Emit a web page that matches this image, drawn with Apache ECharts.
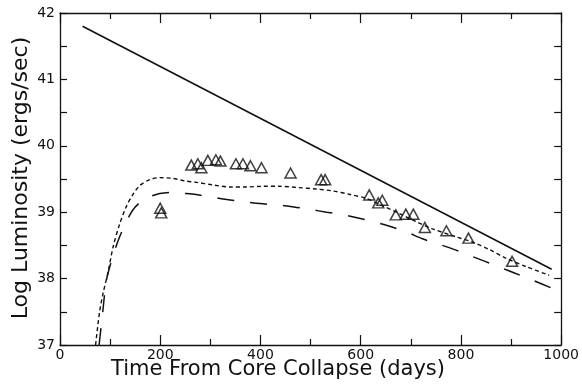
<!DOCTYPE html>
<html>
<head>
<meta charset="utf-8">
<script src="https://cdn.jsdelivr.net/npm/echarts@6/dist/echarts.min.js"></script>
<style>
  html, body { margin: 0; padding: 0; background: #fff; }
  #chart { width: 582px; height: 389px; }
</style>
</head>
<body>
<div id="chart"></div>
<script>
// Upper-limit luminosity: straight line in log space
const limitDays = [45, 981];
const limitLum = [41.80, 38.14];

// Model curve (short dashes)
const modelADays = [71, 79, 86, 96, 106, 119, 132, 145, 159, 179, 199, 225, 250, 272, 305, 340, 371, 405, 438, 478, 510, 544, 577, 610, 643, 677, 710, 743, 790, 823, 856, 889, 930, 976];
const modelALum = [37.0, 37.5, 37.78, 38.1, 38.48, 38.82, 39.08, 39.26, 39.4, 39.49, 39.52, 39.51, 39.47, 39.45, 39.41, 39.38, 39.38, 39.39, 39.39, 39.37, 39.35, 39.32, 39.27, 39.21, 39.1, 38.98, 38.86, 38.75, 38.63, 38.55, 38.44, 38.31, 38.18, 38.05];

// Model curve (long dashes)
const modelBDays = [78, 86, 92, 99, 109, 119, 132, 145, 160, 175, 199, 225, 252, 268, 300, 333, 366, 399, 433, 467, 500, 532, 565, 597, 630, 661, 692, 723, 755, 786, 817, 848, 878, 908, 945, 980];
const modelBLum = [37.0, 37.55, 37.95, 38.17, 38.42, 38.63, 38.85, 39.03, 39.15, 39.22, 39.28, 39.30, 39.28, 39.27, 39.23, 39.19, 39.16, 39.13, 39.11, 39.08, 39.04, 39.0, 38.96, 38.91, 38.85, 38.78, 38.70, 38.6, 38.52, 38.44, 38.35, 38.26, 38.17, 38.08, 37.97, 37.86];

// Observed points (triangles)
const obsDays = [200, 202, 262, 275, 282, 295, 311, 320, 351, 365, 380, 402, 460, 521, 529, 617, 635, 643, 670, 690, 705, 728, 771, 815, 902];
const obsLum = [39.06, 38.99, 39.71, 39.73, 39.67, 39.78, 39.79, 39.77, 39.73, 39.73, 39.70, 39.67, 39.59, 39.49, 39.49, 39.26, 39.14, 39.18, 38.96, 38.97, 38.97, 38.77, 38.72, 38.61, 38.26];

// Axis setup
const xMin = 0, xMax = 1000, xStep = 200;
const yMin = 37, yMax = 42, yStep = 1;

const zip = (a, b) => a.map((v, i) => [v, b[i]]);
const ink = '#111';
const font = '"DejaVu Sans", Arial, sans-serif';

const chart = echarts.init(document.getElementById('chart'), null, { renderer: 'canvas' });

const xAxisBase = {
  type: 'value', min: xMin, max: xMax, interval: xStep,
  axisLine: { show: true, onZero: false, lineStyle: { color: ink, width: 1.3 } },
  axisTick: { show: true, inside: true, length: 10, lineStyle: { color: ink, width: 1.2 } },
  minorTick: { show: true, splitNumber: 2, length: 6, lineStyle: { color: ink, width: 1.2 } },
  splitLine: { show: false }
};
const yAxisBase = {
  type: 'value', min: yMin, max: yMax, interval: yStep,
  axisLine: { show: true, onZero: false, lineStyle: { color: ink, width: 1.3 } },
  axisTick: { show: true, inside: true, length: 7, lineStyle: { color: ink, width: 1.2 } },
  minorTick: { show: true, splitNumber: 2, length: 7, lineStyle: { color: ink, width: 1.2 } },
  splitLine: { show: false }
};

chart.setOption({
  animation: false,
  backgroundColor: '#fff',
  grid: { left: 60, right: 20, top: 13, bottom: 44, containLabel: false },
  xAxis: [
    Object.assign({}, xAxisBase, {
      position: 'bottom',
      axisLabel: { show: true, margin: 3, color: ink, fontSize: 14, fontFamily: font,
        showMinLabel: true, showMaxLabel: true, formatter: v => String(v) }
    }),
    Object.assign({}, xAxisBase, { position: 'top', axisLabel: { show: false } })
  ],
  yAxis: [
    Object.assign({}, yAxisBase, {
      position: 'left',
      axisLabel: { show: true, margin: 5, color: ink, fontSize: 14, fontFamily: font,
        formatter: v => String(v) }
    }),
    Object.assign({}, yAxisBase, { position: 'right', axisLabel: { show: false } })
  ],
  graphic: [
    {
      type: 'text', x: 278, y: 370,
      style: { text: 'Time From Core Collapse (days)', fill: ink, font: '21px ' + font,
        textAlign: 'center', textVerticalAlign: 'middle' }
    },
    {
      type: 'text', x: 21, y: 178, rotation: Math.PI / 2,
      style: { text: 'Log Luminosity (ergs/sec)', fill: ink, font: '22px ' + font,
        textAlign: 'center', textVerticalAlign: 'middle' }
    }
  ],
  series: [
    {
      type: 'line', name: 'limit', data: zip(limitDays, limitLum),
      showSymbol: false, symbol: 'none',
      lineStyle: { color: ink, width: 1.6, type: 'solid' }
    },
    {
      type: 'line', name: 'modelA', data: zip(modelADays, modelALum),
      showSymbol: false, symbol: 'none', smooth: 0.3,
      lineStyle: { color: ink, width: 1.4, type: [4, 3] }
    },
    {
      type: 'line', name: 'modelB', data: zip(modelBDays, modelBLum),
      showSymbol: false, symbol: 'none', smooth: 0.3,
      lineStyle: { color: ink, width: 1.5, type: [17, 16] }
    },
    {
      type: 'scatter', name: 'observed', data: zip(obsDays, obsLum),
      symbol: 'triangle', symbolSize: [11, 10],
      itemStyle: { color: 'rgba(255,255,255,0)', borderColor: ink, borderWidth: 1.5 }
    }
  ]
});
</script>
</body>
</html>
